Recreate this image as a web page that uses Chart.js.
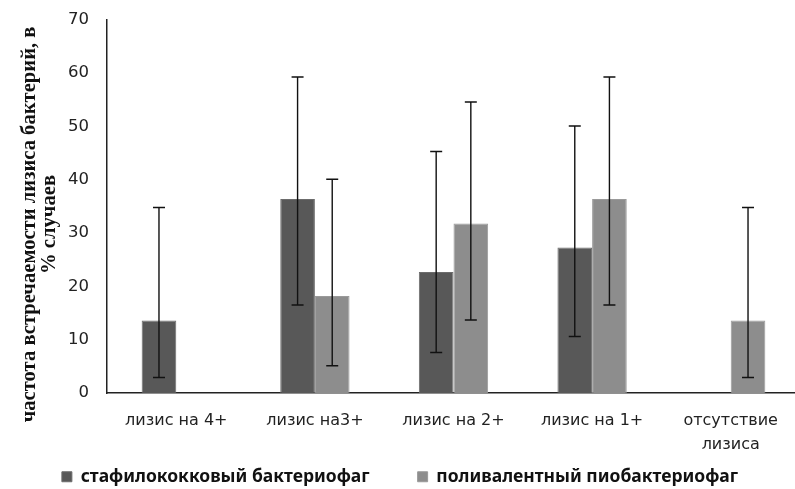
<!DOCTYPE html>
<html>
<head>
<meta charset="utf-8">
<script src="https://cdn.jsdelivr.net/npm/chart.js@4/dist/chart.umd.min.js"></script>
<style>
  html, body { margin: 0; padding: 0; background: #fff; overflow: hidden; }
  #wrap { width: 802px; height: 489px; }
</style>
</head>
<body>
<div id="wrap"><canvas id="chart" width="802" height="489"></canvas></div>
<script>
const categories = ['лизис на 4+', 'лизис на3+', 'лизис на 2+', 'лизис на 1+', ['отсутствие', 'лизиса']];
const seriesNames = ['стафилококковый бактериофаг', 'поливалентный пиобактериофаг'];

const staphValues = [13.6, 36.4, 22.7, 27.3, null];
const staphLow = [2.9, 16.5, 7.6, 10.6, null];
const staphHigh = [34.8, 59.3, 45.3, 50.1, null];

const polyValues = [null, 18.2, 31.8, 36.4, 13.6];
const polyLow = [null, 5.1, 13.7, 16.5, 2.9];
const polyHigh = [null, 40.1, 54.6, 59.3, 34.8];

const yTicks = [0, 10, 20, 30, 40, 50, 60, 70];

// error bars drawn from the low/high arrays through the y scale
const errorBars = {
  id: 'errorBars',
  afterDatasetsDraw(chart) {
    const ctx = chart.ctx;
    const y = chart.scales.y;
    chart.data.datasets.forEach((ds, i) => {
      const meta = chart.getDatasetMeta(i);
      meta.data.forEach((bar, j) => {
        const lo = ds.errLow[j], hi = ds.errHigh[j];
        if (lo == null || hi == null) return;
        const x = bar.x;
        const yLo = y.getPixelForValue(lo);
        const yHi = y.getPixelForValue(hi);
        ctx.save();
        ctx.strokeStyle = '#111';
        ctx.lineWidth = 1.4;
        ctx.beginPath();
        ctx.moveTo(x, yLo); ctx.lineTo(x, yHi);
        ctx.moveTo(x - 6, yLo); ctx.lineTo(x + 6, yLo);
        ctx.moveTo(x - 6, yHi); ctx.lineTo(x + 6, yHi);
        ctx.stroke();
        ctx.restore();
      });
    });
  }
};

// wide gap between legend items but a short legend box:
// keep the box small and draw the items a bit higher
const legendBoxHeight = 36;
const legendLift = 33;
const compactLegend = {
  id: 'compactLegend',
  beforeLayout(chart) {
    const lg = chart.legend;
    if (!lg || lg.compactPatched) return;
    lg.compactPatched = true;
    const fit = lg.fit, draw = lg.draw;
    lg.fit = function () { fit.call(this); this.height = legendBoxHeight; };
    lg.draw = function () {
      this.top -= legendLift;
      draw.call(this);
      this.top += legendLift;
    };
  }
};

// the y title sits a little lower than the middle of the axis
const titleShift = 18;

new Chart(document.getElementById('chart'), {
  type: 'bar',
  data: {
    labels: categories,
    datasets: [
      {
        label: seriesNames[0],
        data: staphValues,
        errLow: staphLow,
        errHigh: staphHigh,
        backgroundColor: '#585858',
        borderColor: '#6c6c6c',
        borderWidth: 1
      },
      {
        label: seriesNames[1],
        data: polyValues,
        errLow: polyLow,
        errHigh: polyHigh,
        backgroundColor: '#8d8d8d',
        borderColor: '#9a9a9a',
        borderWidth: 1
      }
    ]
  },
  options: {
    responsive: false,
    animation: false,
    layout: { padding: { left: 0, right: 2, top: 13, bottom: 0 } },
    categoryPercentage: 0.5,
    barPercentage: 1.0,
    plugins: {
      tooltip: { enabled: false },
      legend: {
        position: 'bottom',
        labels: {
          boxWidth: 10,
          boxHeight: 10,
          padding: 48,
          color: '#111',
          font: { family: 'Noto Sans', size: 17.5, weight: 'bold' }
        }
      }
    },
    scales: {
      x: {
        grid: { display: false },
        border: { display: true, color: '#222', width: 1.5 },
        ticks: {
          color: '#222',
          maxRotation: 0,
          padding: 8,
          font: { family: 'DejaVu Sans', size: 16, lineHeight: 1.5 }
        },
        afterFit(scale) { scale.height = 60; }
      },
      y: {
        min: 0,
        max: 70,
        afterBuildTicks(scale) { scale.ticks = yTicks.map(v => ({ value: v })); },
        grid: { display: false },
        border: { display: true, color: '#222', width: 1.5 },
        ticks: {
          color: '#222',
          padding: 10,
          font: { family: 'DejaVu Sans', size: 16.5 }
        },
        title: {
          display: true,
          text: ['частота встречаемости лизиса бактерий, в', '% случаев'],
          color: '#111',
          padding: { top: 20, bottom: 0 },
          font: { family: 'Liberation Serif', size: 20.6, weight: 'bold', lineHeight: 0.97 }
        },
        afterFit(scale) {
          scale.width = 107;
          if (!scale.titlePatched) {
            scale.titlePatched = true;
            const drawTitle = scale.drawTitle;
            scale.drawTitle = function () {
              this.top += titleShift; this.bottom += titleShift;
              drawTitle.call(this);
              this.top -= titleShift; this.bottom -= titleShift;
            };
          }
        }
      }
    }
  },
  plugins: [errorBars, compactLegend]
});
</script>
</body>
</html>
